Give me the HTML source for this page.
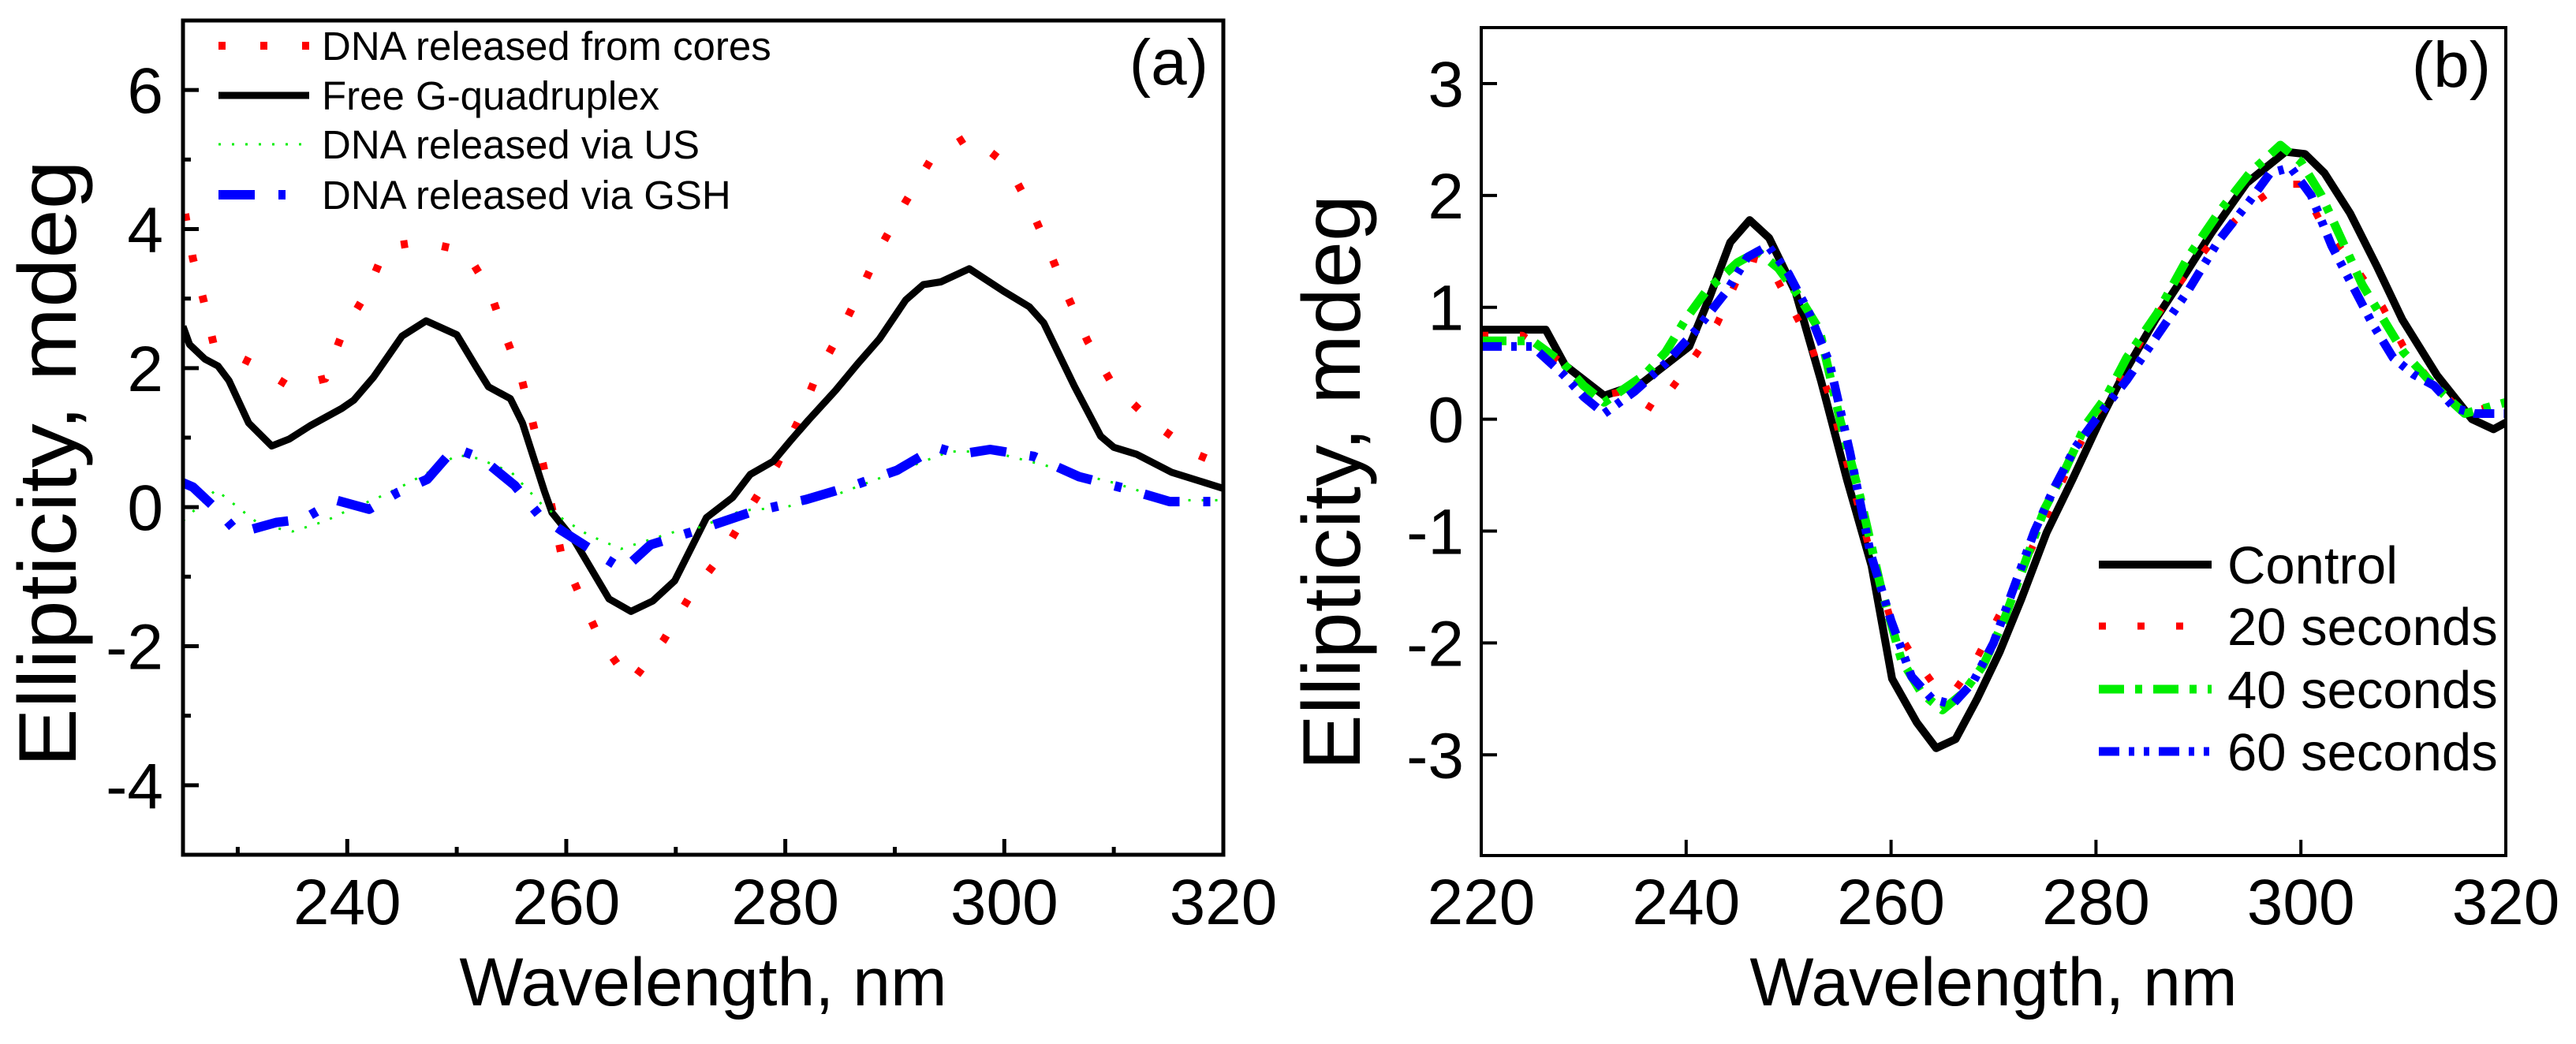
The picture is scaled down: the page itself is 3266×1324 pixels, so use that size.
<!DOCTYPE html>
<html><head><meta charset="utf-8"><style>
html,body{margin:0;padding:0;background:#fff;}
svg{display:block;font-family:"Liberation Sans",Arial,sans-serif;}
</style></head><body>
<svg id="fig" width="3266" height="1324" viewBox="0 0 3266 1324" xmlns="http://www.w3.org/2000/svg">
<rect width="3266" height="1324" fill="#fff"/>
<g id="panelA"></g>
<g id="panelB"></g>
</svg>
<script>
// ---------- Panel (a) data ----------
const aBlackX = [225,225.6,227,228.2,229.2,231,233.1,234.7,236.6,239.5,240.6,242.4,245,247.2,250,251.8,252.9,254.9,256,258,258.7,260.7,263.9,265.9,267.9,269.9,272.8,275.2,276.8,278.9,280.5,282.1,284.6,286.6,288.6,291,292.6,294.2,296.8,299.9,302.3,303.6,306.4,308.8,310,312.1,315.3,320];
const aBlackY = [2.6,2.34,2.13,2.03,1.82,1.21,0.88,0.98,1.17,1.42,1.54,1.87,2.46,2.68,2.48,2.01,1.73,1.56,1.21,0.23,-0.08,-0.47,-1.32,-1.5,-1.35,-1.06,-0.15,0.14,0.47,0.66,0.96,1.25,1.68,2.06,2.42,2.98,3.2,3.24,3.43,3.11,2.88,2.65,1.74,1.02,0.86,0.76,0.5,0.27];
const aRedX = [225.2,225.9,226.9,227.8,231.3,234.8,238,239.5,241.9,243.5,246.8,250.8,253,254.4,255.9,256.9,257.9,258.7,259.5,261.3,263.1,265.9,268.9,271.3,274.3,276.8,279.2,281.2,282.8,284.9,286.9,288.7,290.9,293.3,296.8,300.4,302.5,304.2,305.8,307.6,309.9,313.7,317.7,320];
const aRedY = [4.22,3.58,2.96,2.34,2.07,1.73,1.85,2.48,3.12,3.74,3.82,3.68,3.12,2.48,1.86,1.24,0.6,-0.02,-0.64,-1.29,-1.91,-2.53,-1.91,-1.28,-0.66,0,0.6,1.24,1.87,2.48,3.12,3.74,4.37,5.0,5.35,4.9,4.27,3.65,3.03,2.39,1.76,1.2,0.75,0.6];
const aGreenX = [225,228,230,232,235,238,240,243,245,248,250,252,255,258,260,262,265,268,270,272,276,280,285,290,295,298,300,305,310,315,320];
const aGreenY = [-0.2,0.25,0.0,-0.25,-0.35,-0.2,-0.05,0.15,0.3,0.55,0.75,0.7,0.5,0.0,-0.2,-0.4,-0.6,-0.45,-0.35,-0.3,-0.05,0.0,0.2,0.5,0.8,0.8,0.75,0.55,0.35,0.1,0.1];
const aBlueX = [225,225.9,228.2,230,230.8,233.5,236,239,242,244.6,247.3,249.8,252.3,255.3,257.5,259.7,262.8,265.2,267.7,272.4,276.7,281.9,286.2,290.2,293.8,295.9,298.7,302.7,306.8,311,315.1,320];
const aBlueY = [0.35,0.29,-0.05,-0.37,-0.34,-0.22,-0.17,0.1,-0.03,0.21,0.4,0.85,0.7,0.31,-0.11,-0.35,-0.66,-0.9,-0.54,-0.31,-0.08,0.11,0.31,0.53,0.86,0.76,0.83,0.73,0.44,0.27,0.08,0.08];
const aXTicks = [240,260,280,300,320];
const aXMinor = [230,250,270,290,310];
const aYTicks = [-4,-2,0,2,4,6];
const aYMinor = [-3,-1,1,3,5];
const aLegend = ["DNA released from cores","Free G-quadruplex","DNA released via US","DNA released via GSH"];

// ---------- Panel (b) data ----------
const bCtrlX = [220,226.3,228.2,232,235.8,240.3,242.2,244.3,246.2,248.1,250.7,253.2,255.7,258.1,260.1,262.5,264.4,266.3,268.4,270.6,272.7,275.2,277.7,280.3,282.8,285.8,288.8,291.3,294.7,298.5,300.4,302.3,304.8,307.4,309.9,313.3,316.7,318.8,320];
const bCtrlY = [0.8,0.8,0.48,0.21,0.33,0.65,1.07,1.58,1.78,1.62,1.13,0.33,-0.54,-1.31,-2.32,-2.71,-2.94,-2.86,-2.5,-2.08,-1.61,-1.01,-0.54,-0.03,0.42,0.89,1.31,1.67,2.11,2.39,2.37,2.2,1.84,1.37,0.89,0.39,0,-0.09,-0.03];
const b20X = [220,224,228,231,234,237,240,243,246,248,250,252,254,256,258,260,262,264,266,268,270,272,274,276,278,280,282,285,288,291,295,298,300,302,305,308,310,313,316,318,320];
const b20Y = [0.75,0.75,0.5,0.2,0.25,0.08,0.45,0.85,1.45,1.4,1.05,0.7,0.2,-0.5,-1.2,-1.8,-2.1,-2.35,-2.45,-2.2,-1.85,-1.5,-1.1,-0.7,-0.3,0.05,0.3,0.8,1.2,1.55,1.9,2.1,2.1,1.75,1.4,1.0,0.65,0.3,0.05,0.1,0.1];
const b40X = [220,225,228,230,232,236,238,240,242,245,247,249,251,253,255,257,259,261,263,265,267,269,271,273,275,277,279,281,283,286,289,292,295,298,300,302,304,306,308,310,313,316,318,320];
const b40Y = [0.7,0.7,0.5,0.3,0.15,0.4,0.6,0.9,1.15,1.4,1.5,1.35,1.1,0.8,0.0,-0.7,-1.5,-2.15,-2.45,-2.6,-2.45,-2.2,-1.8,-1.3,-0.8,-0.45,-0.05,0.2,0.55,0.95,1.45,1.85,2.2,2.45,2.3,2.0,1.6,1.2,0.9,0.6,0.3,0.05,0.1,0.15];
const b60X = [220,225,228,230,232,235,238,241,244,246,248,250,252,254,256,258,260,262,264,266,268,270,272,274,276,278,280,283,286,289,292,295,297,299,301,303,305,307,309,311,313,315,317,320];
const b60Y = [0.65,0.65,0.4,0.2,0.05,0.25,0.5,0.8,1.15,1.45,1.55,1.3,0.95,0.5,-0.3,-1.2,-1.8,-2.3,-2.5,-2.55,-2.35,-2.0,-1.5,-1.0,-0.6,-0.25,0.0,0.35,0.75,1.15,1.6,1.95,2.2,2.25,2.0,1.55,1.2,0.85,0.55,0.4,0.3,0.1,0.05,0.05];
const bXTicks = [220,240,260,280,300,320];
const bYTicks = [-3,-2,-1,0,1,2,3];
const bLegend = ["Control","20 seconds","40 seconds","60 seconds"];

const NS = "http://www.w3.org/2000/svg";
function mk(parent, tag, attrs, text){
  const e = document.createElementNS(NS, tag);
  for (const k in attrs) e.setAttribute(k, attrs[k]);
  if (text !== undefined) e.textContent = text;
  parent.appendChild(e);
  return e;
}
function scale(d0,d1,r0,r1){ return v => r0 + (v-d0)*(r1-r0)/(d1-d0); }
function pathD(xs, ys, sx, sy){
  return xs.map((x,i)=>(i?"L":"M")+sx(x).toFixed(1)+","+sy(ys[i]).toFixed(1)).join(" ");
}

// ---------------- Panel A ----------------
(function(){
  const g = document.getElementById("panelA");
  const L=232,R=1551,T=26,B=1084;
  const sx = scale(225,320,L,R), sy = scale(-5,7,B,T);
  const styles = [
    {xs:aRedX, ys:aRedY, c:"#ff0000", w:10, da:"9 44", name:"series-released-from-cores"},
    {xs:aBlackX, ys:aBlackY, c:"#000", w:9, da:"", name:"series-free-g-quadruplex"},
    {xs:aGreenX, ys:aGreenY, c:"#00ee00", w:3, da:"3 14", name:"series-released-via-us"},
    {xs:aBlueX, ys:aBlueY, c:"#0000ff", w:12, da:"46 30 9 30", name:"series-released-via-gsh"}
  ];
  const clip = mk(g,"clipPath",{id:"clipA"});
  mk(clip,"rect",{x:L,y:T,width:R-L,height:B-T});
  styles.forEach(s=>{
    const p = mk(g,"path",{d:pathD(s.xs,s.ys,sx,sy),fill:"none",stroke:s.c,"stroke-width":s.w,"stroke-dasharray":s.da,"stroke-linejoin":"round","clip-path":"url(#clipA)"});
    
    
  });
  const frame = mk(g,"rect",{x:L,y:T,width:R-L,height:B-T,fill:"none",stroke:"#000","stroke-width":5});
  
  
  aXTicks.forEach(v=>{
    const t = mk(g,"line",{x1:sx(v),x2:sx(v),y1:B,y2:B-20,stroke:"#000","stroke-width":5});
    
    
    const lb = mk(g,"text",{x:sx(v),y:1172,"font-size":82,"text-anchor":"middle"},String(v));
    
    
  });
  aXMinor.forEach(v=>{
    const t = mk(g,"line",{x1:sx(v),x2:sx(v),y1:B,y2:B-10,stroke:"#000","stroke-width":5});
    
    
  });
  aYTicks.forEach(v=>{
    const t = mk(g,"line",{x1:L,x2:L+20,y1:sy(v),y2:sy(v),stroke:"#000","stroke-width":5});
    
    
    const lb = mk(g,"text",{x:207,y:sy(v)+29,"font-size":82,"text-anchor":"end"},String(v));
    
    
  });
  aYMinor.forEach(v=>{
    const t = mk(g,"line",{x1:L,x2:L+10,y1:sy(v),y2:sy(v),stroke:"#000","stroke-width":5});
    
    
  });
  const xt = mk(g,"text",{x:(L+R)/2,y:1275,"font-size":86,"text-anchor":"middle"},"Wavelength, nm");
  
  
  const yt = mk(g,"text",{x:0,y:0,"font-size":104,"text-anchor":"middle",textLength:770,lengthAdjust:"spacingAndGlyphs",transform:"translate(96,588) rotate(-90)"},"Ellipticity, mdeg");
  
  
  const pl = mk(g,"text",{x:1532,y:107,"font-size":82,"text-anchor":"end"},"(a)");
  
  
  const ly=[58,121,183,247];
  aLegend.forEach((name,i)=>{
    const s=styles[i];
    const ln = mk(g,"line",{x1:277,x2:392,y1:ly[i],y2:ly[i],stroke:s.c,"stroke-width":s.w,"stroke-dasharray":s.da});
    
    
    const tx = mk(g,"text",{x:408,y:ly[i]+18,"font-size":51},name);
    
    
  });
})();

// ---------------- Panel B ----------------
(function(){
  const g = document.getElementById("panelB");
  const L=1878,R=3177,T=35,B=1085;
  const sx = scale(220,320,L,R), sy = scale(-3.9,3.5,B,T);
  const styles = [
    {xs:bCtrlX, ys:bCtrlY, c:"#000", w:10, da:"", name:"series-control"},
    {xs:b20X, ys:b20Y, c:"#ff0000", w:9, da:"9 40", name:"series-20-seconds"},
    {xs:b40X, ys:b40Y, c:"#00ee00", w:11, da:"32 14 9 14", name:"series-40-seconds"},
    {xs:b60X, ys:b60Y, c:"#0000ff", w:11, da:"26 12 7 12 7 12", name:"series-60-seconds"}
  ];
  const clip = mk(g,"clipPath",{id:"clipB"});
  mk(clip,"rect",{x:L,y:T,width:R-L,height:B-T});
  styles.forEach(s=>{
    const p = mk(g,"path",{d:pathD(s.xs,s.ys,sx,sy),fill:"none",stroke:s.c,"stroke-width":s.w,"stroke-dasharray":s.da,"stroke-linejoin":"round","clip-path":"url(#clipB)"});
    
    
  });
  const frame = mk(g,"rect",{x:L,y:T,width:R-L,height:B-T,fill:"none",stroke:"#000","stroke-width":4});
  
  
  bXTicks.forEach(v=>{
    const t = mk(g,"line",{x1:sx(v),x2:sx(v),y1:B,y2:B-20,stroke:"#000","stroke-width":4});
    
    
    const lb = mk(g,"text",{x:sx(v),y:1172,"font-size":82,"text-anchor":"middle"},String(v));
    
    
  });
  bYTicks.forEach(v=>{
    const t = mk(g,"line",{x1:L,x2:L+20,y1:sy(v),y2:sy(v),stroke:"#000","stroke-width":4});
    
    
    const lb = mk(g,"text",{x:1856,y:sy(v)+29,"font-size":82,"text-anchor":"end"},String(v));
    
    
  });
  const xt = mk(g,"text",{x:(L+R)/2,y:1275,"font-size":86,"text-anchor":"middle"},"Wavelength, nm");
  
  
  const yt = mk(g,"text",{x:0,y:0,"font-size":104,"text-anchor":"middle",textLength:730,lengthAdjust:"spacingAndGlyphs",transform:"translate(1724,612) rotate(-90)"},"Ellipticity, mdeg");
  
  
  const pl = mk(g,"text",{x:3158,y:110,"font-size":82,"text-anchor":"end"},"(b)");
  
  
  const ly=[716,794,874,953];
  bLegend.forEach((name,i)=>{
    const s=styles[i];
    const ln = mk(g,"line",{x1:2661,x2:2804,y1:ly[i],y2:ly[i],stroke:s.c,"stroke-width":s.w,"stroke-dasharray":s.da});
    
    
    const tx = mk(g,"text",{x:2824,y:ly[i]+24,"font-size":67},name);
    
    
  });
})();
</script>
</body></html>
